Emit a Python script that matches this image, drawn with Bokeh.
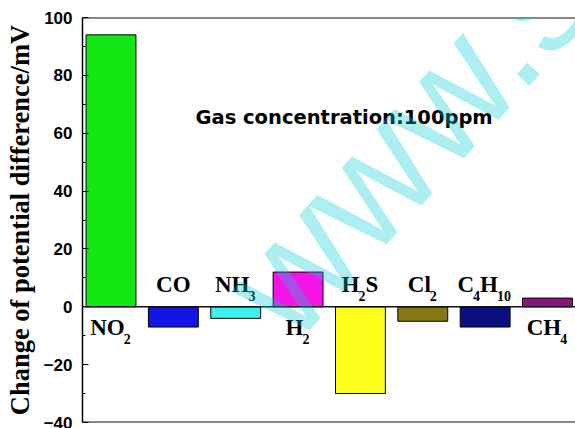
from bokeh.plotting import figure
from bokeh.models import ColumnDataSource, Range1d, FixedTicker, Span, Label
from bokeh.core.properties import value
from bokeh.embed import file_html
from bokeh.resources import INLINE

# ---- data -------------------------------------------------------------
gases = ["NO2", "CO", "NH3", "H2", "H2S", "Cl2", "C4H10", "CH4"]
response_mv = [94, -7, -4, 12, -30, -5, -7, 3]
bar_colors = ["#14E614", "#1414E6", "#3CF0F0", "#F514E8",
              "#FFFF1E", "#857A14", "#0A0F80", "#8C1482"]
y_ticks = [-40, -20, 0, 20, 40, 60, 80, 100]
y_minor_ticks = [-30, -10, 10, 30, 50, 70, 90]
y_title = "Change of potential difference/mV"
note_text = "Gas concentration:100ppm"
mark_text = "www.s"

# ---- layout -----------------------------------------------------------
W, H = 575, 428
LEFT, TOP, BOTTOM = 82, 17, 6
X_RANGE = (0.543, 8.449)
Y_RANGE = (-40, 100)
FRAME_W = W - LEFT
FRAME_H = H - TOP - BOTTOM


def px_to_x(px):
    return X_RANGE[0] + (px - LEFT) * (X_RANGE[1] - X_RANGE[0]) / FRAME_W


def py_to_y(py):
    return Y_RANGE[1] - (py - TOP) * (Y_RANGE[1] - Y_RANGE[0]) / FRAME_H


p = figure(width=W, height=H,
           x_range=Range1d(*X_RANGE), y_range=Range1d(*Y_RANGE),
           x_axis_location=None, output_backend="svg", toolbar_location=None,
           min_border_left=LEFT, min_border_top=TOP,
           min_border_bottom=BOTTOM, min_border_right=0)
p.outline_line_color = None
p.grid.visible = False
p.background_fill_color = "white"
p.border_fill_color = "white"

xs = list(range(1, len(gases) + 1))
bars = ColumnDataSource(dict(x=xs, v=response_mv, color=bar_colors))
p.vbar(x="x", top="v", bottom=0, width=0.8, fill_color="color",
       line_color="black", line_width=1, source=bars)

# frame lines (top, bottom) and the zero baseline
for loc, lw in ((Y_RANGE[1], 2), (Y_RANGE[0], 2), (0, 1.5)):
    p.add_layout(Span(location=loc, dimension="width", line_color="#111111",
                      line_width=lw))

# ---- chemical formula labels with subscripts ---------------------------
TIMES_BOLD = {"N": .722, "O": .778, "C": .722, "H": .778, "S": .556, "l": .278}
MAIN_PX, SUB_PX = 23, 14


def runs(formula):
    out = []
    for ch in formula:
        sub = ch.isdigit()
        if out and out[-1][1] == sub:
            out[-1][0] += ch
        else:
            out.append([ch, sub])
    return out


def run_width(text, sub):
    if sub:
        return len(text) * 0.5 * SUB_PX
    return sum(TIMES_BOLD.get(c, .6) for c in text) * MAIN_PX


main = dict(x=[], y=[], t=[], dx=[], dy=[])
subs = dict(x=[], y=[], t=[], dx=[], dy=[])
for xi, gas, v in zip(xs, gases, response_mv):
    parts = runs(gas)
    total = sum(run_width(t, s) for t, s in parts)
    cur = -total / 2
    above = v < 0
    for t, s in parts:
        tgt = subs if s else main
        if s:
            cur -= 1
            dy = -11 if above else 32
        else:
            dy = -22 if above else 21
        tgt["x"].append(xi)
        tgt["y"].append(0)
        tgt["t"].append(t)
        tgt["dx"].append(cur)
        tgt["dy"].append(dy)
        cur += run_width(t, s)

for data, size in ((main, MAIN_PX), (subs, SUB_PX)):
    p.text(x="x", y="y", text="t", x_offset="dx", y_offset="dy",
           source=ColumnDataSource(data), text_font=value("Liberation Serif"),
           text_font_style="bold", text_font_size=f"{size}px",
           text_color="black", text_align="left", text_baseline="alphabetic")

# ---- y axis -------------------------------------------------------------
ax = p.yaxis[0]
ax.ticker = FixedTicker(ticks=y_ticks, minor_ticks=y_minor_ticks)
ax.axis_label = y_title
ax.axis_label_text_font = "Liberation Serif"
ax.axis_label_text_font_style = "bold"
ax.axis_label_text_font_size = "26.5px"
ax.axis_label_text_color = "black"
ax.axis_label_standoff = 6
ax.major_label_text_font = "Liberation Sans"
ax.major_label_text_font_style = "bold"
ax.major_label_text_font_size = "17px"
ax.major_label_text_color = "black"
ax.major_label_standoff = 10
ax.major_tick_in = 6
ax.major_tick_out = 0
ax.minor_tick_in = 3
ax.minor_tick_out = 0
ax.axis_line_width = 1.5
ax.axis_line_color = "black"
ax.major_tick_line_color = "black"
ax.minor_tick_line_color = "black"

# ---- annotation text -----------------------------------------------------
p.add_layout(Label(x=px_to_x(195), y=py_to_y(117), text=note_text,
                   text_font="DejaVu Sans", text_font_style="bold",
                   text_font_size="19.5px", text_color="black",
                   text_baseline="alphabetic"))

# ---- semi-transparent diagonal site mark ---------------------------------
p.add_layout(Label(x=px_to_x(252), y=py_to_y(310), text=mark_text, angle=0.838,
                   text_font="Liberation Sans", text_font_style="normal",
                   text_font_size="160px", text_color="#00CED1", text_alpha=0.32,
                   text_baseline="alphabetic", text_align="left"))

open("out.html", "w").write(file_html(p, INLINE))
